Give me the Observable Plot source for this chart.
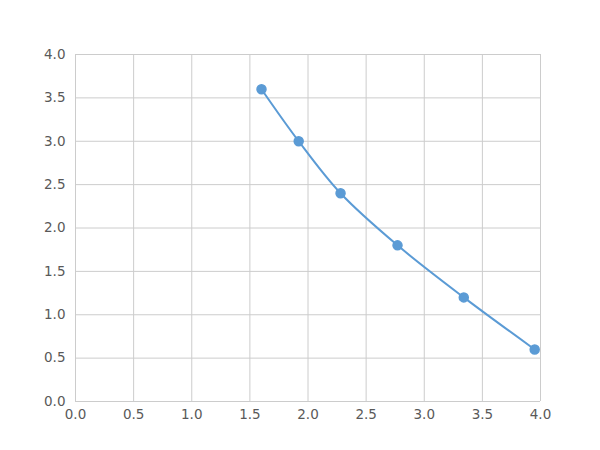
<!DOCTYPE html>
<html>
<head>
<meta charset="utf-8">
<script src="https://cdn.jsdelivr.net/npm/d3@7"></script>
<script src="https://cdn.jsdelivr.net/npm/@observablehq/plot@0.6"></script>
<style>
  html, body { margin: 0; padding: 0; background: #fff; }
</style>
</head>
<body>
<div id="chart"></div>
<script>
const xValues = [1.6, 1.92, 2.28, 2.77, 3.34, 3.95];
const yValues = [3.6, 3.0, 2.4, 1.8, 1.2, 0.6];
const xTicks = [0, 0.5, 1, 1.5, 2, 2.5, 3, 3.5, 4];
const yTicks = [0, 0.5, 1, 1.5, 2, 2.5, 3, 3.5, 4];

const data = xValues.map((x, i) => ({x, y: yValues[i]}));
const fmt = d => d.toFixed(1);

const chart = Plot.plot({
  width: 600,
  height: 450,
  marginLeft: 75,
  marginRight: 60,
  marginTop: 54,
  marginBottom: 49,
  style: {fontFamily: "DejaVu Sans, sans-serif", fontSize: "13.5px", color: "#595959", background: "#fff"},
  x: {domain: [0, 4], ticks: xTicks, tickFormat: fmt, label: null, tickSize: 0, tickPadding: 8},
  y: {domain: [0, 4], ticks: yTicks, tickFormat: fmt, label: null, tickSize: 0, tickPadding: 10},
  marks: [
    Plot.gridX(xTicks, {stroke: "#cccccc", strokeOpacity: 1, strokeWidth: 1}),
    Plot.gridY(yTicks, {stroke: "#cccccc", strokeOpacity: 1, strokeWidth: 1}),
    Plot.axisX({ticks: xTicks, tickFormat: fmt, tickSize: 0, tickPadding: 8, fill: "#595959", fontSize: 13.5, label: null}),
    Plot.axisY({ticks: yTicks, tickFormat: fmt, tickSize: 0, tickPadding: 10, fill: "#595959", fontSize: 13.5, label: null}),
    Plot.line(data, {x: "x", y: "y", curve: "catmull-rom", stroke: "#5b9bd5", strokeWidth: 2}),
    Plot.dot(data, {x: "x", y: "y", r: 4.5, fill: "#5b9bd5", stroke: "#5b9bd5"})
  ]
});
document.getElementById("chart").appendChild(chart);
</script>
</body>
</html>
